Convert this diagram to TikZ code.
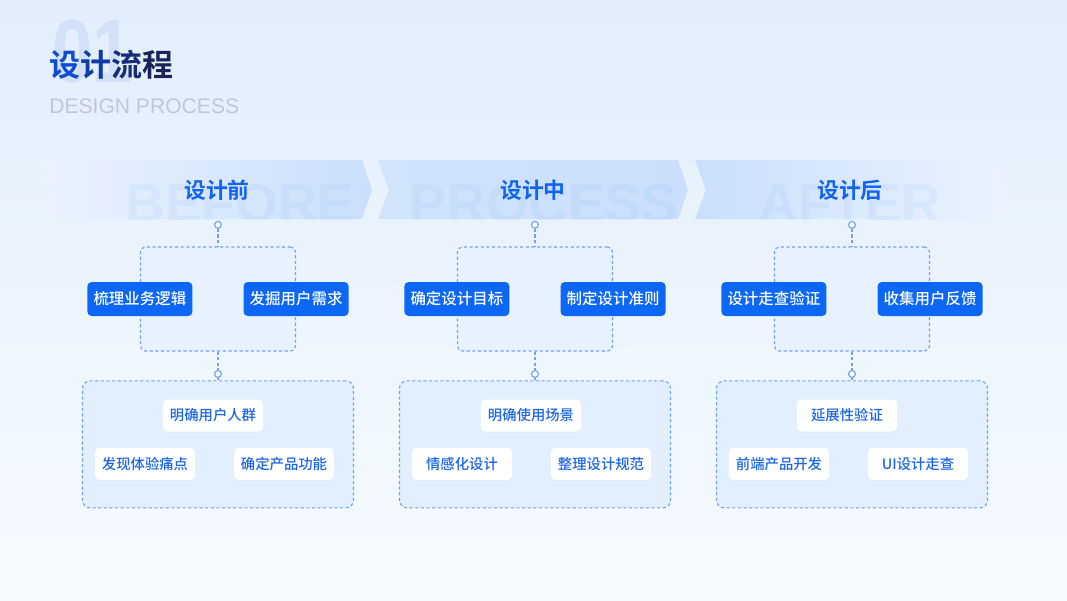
\documentclass[tikz,border=0pt]{standalone}
\usepackage{fontspec}
\setmainfont{Noto Sans CJK SC}[BoldFont={Noto Sans CJK SC Bold}]
\newfontfamily\cjkmed{Noto Sans CJK SC Medium}
\newfontfamily\latinfont{Liberation Sans}
\usetikzlibrary{positioning, shadows}

\definecolor{bgtop}{RGB}{226,238,252}
\definecolor{bgbot}{RGB}{246,251,255}
\definecolor{bandA}{RGB}{202,223,252}
\definecolor{bandB}{RGB}{209,228,252}
\definecolor{bandfade}{RGB}{234,243,254}
\definecolor{ghost}{RGB}{120,170,245}
\definecolor{headblue}{RGB}{18,100,240}
\definecolor{pillblue}{RGB}{12,102,246}
\definecolor{cardtext}{RGB}{28,102,230}
\definecolor{dashblue}{RGB}{112,162,240}
\definecolor{boxup}{RGB}{231,242,254}
\definecolor{boxlow}{RGB}{226,239,254}
\definecolor{engray}{RGB}{192,199,213}
\definecolor{numghost}{RGB}{210,225,249}
\definecolor{tone1}{RGB}{14,76,212}
\definecolor{tone2}{RGB}{16,60,168}
\definecolor{tone3}{RGB}{22,44,122}
\definecolor{tone4}{RGB}{26,34,88}

\begin{document}
\begin{tikzpicture}[
    x=0.025cm, y=-0.025cm,
    dot/.style={circle, draw=dashblue, fill=white, line width=0.8pt, minimum size=0.17cm, inner sep=0pt},
    link/.style={draw=dashblue, line width=0.8pt, dash pattern=on 2.2pt off 1.8pt},
    upbox/.style={link, fill=boxup, rounded corners=3.5pt, minimum width=3.875cm, minimum height=2.6cm},
    lowbox/.style={link, fill=boxlow, rounded corners=5.5pt, minimum width=6.775cm, minimum height=3.175cm},
    pill/.style={fill=pillblue, text=white, rounded corners=3pt, minimum width=2.625cm, minimum height=0.85cm, inner sep=0pt, font=\cjkmed\fontsize{11}{13}\selectfont},
    card/.style={fill=white, rounded corners=3pt, minimum width=2.5cm, minimum height=0.8cm, inner sep=0pt, text=cardtext, font=\cjkmed\fontsize{10.2}{12}\selectfont, drop shadow={shadow xshift=0pt, shadow yshift=-0.6pt, opacity=0.10, fill=dashblue}},
    head/.style={text=headblue, font=\fontsize{15.5}{18}\selectfont\bfseries},
    ghostword/.style={anchor=base, inner sep=0pt, text=ghost, text opacity=0.10, font=\latinfont\bfseries\fontsize{39}{40}\selectfont}
]
\useasboundingbox (0,0) rectangle (1067,600);
\shade[top color=bgtop, bottom color=bgbot] (0,0) rectangle (1067,600);

% heading
\node[anchor=base west, inner sep=0pt, text=numghost, font=\latinfont\bfseries\fontsize{64}{64}\selectfont] (num) at (52,82) {\scalebox{0.8}[1]{01}};
\node[anchor=west, inner sep=0pt, font=\bfseries\fontsize{22}{26}\selectfont] (title) at (49,65) {\textcolor{tone1}{设}\textcolor{tone2}{计}\textcolor{tone3}{流}\textcolor{tone4}{程}};
\node[anchor=base west, inner sep=0pt, text=engray, font=\latinfont\fontsize{15}{18}\selectfont] (sub) at (49,113) {DESIGN PROCESS};

% banners
\begin{scope}
\clip (40,160) -- (362,160) -- (372,190) -- (362,219) -- (40,219) -- (51,190) -- cycle;
\shade[left color=bandfade, right color=bandA] (40,160) rectangle (372,219);
\node[ghostword] (gh1) at (240,222) {BEFORE};
\end{scope}
\begin{scope}
\clip (378,160) -- (678,160) -- (688,190) -- (678,219) -- (378,219) -- (389,190) -- cycle;
\shade[left color=bandB, right color=bandA] (378,160) rectangle (688,219);
\node[ghostword] (gh2) at (544,222) {PROCESS};
\end{scope}
\begin{scope}
\clip (695,160) -- (995,160) -- (1006,190) -- (995,219) -- (695,219) -- (706,190) -- cycle;
\shade[left color=bandA, right color=bandfade] (695,160) rectangle (1006,219);
\node[ghostword] (gh3) at (850,222) {AFTER};
\end{scope}
\node[head] (h1) at (217,190) {设计前};
\node[head] (h2) at (533,190) {设计中};
\node[head] (h3) at (850,190) {设计后};

% column 1
\node[upbox] (up1) at (218,299) {};
\node[dot, above=0.44cm of up1] (dotA1) {};
\node[dot, below=0.46cm of up1] (dotB1) {};
\node[lowbox, below=0.06cm of dotB1] (low1) {};
\draw[link] (dotA1) -- (up1);
\draw[link] (up1) -- (dotB1);
\draw[link] (dotB1) -- (low1);
\node[pill] (p11) at (up1.west) {梳理业务逻辑};
\node[pill] (p12) at (up1.east) {发掘用户需求};
\node[card] (c11) at (213,415.5) {明确用户人群};
\node[card] (c12) at (145,464) {发现体验痛点};
\node[card] (c13) at (284,464) {确定产品功能};

% column 2
\node[upbox] (up2) at (535,299) {};
\node[dot, above=0.44cm of up2] (dotA2) {};
\node[dot, below=0.46cm of up2] (dotB2) {};
\node[lowbox, below=0.06cm of dotB2] (low2) {};
\draw[link] (dotA2) -- (up2);
\draw[link] (up2) -- (dotB2);
\draw[link] (dotB2) -- (low2);
\node[pill] (p21) at (up2.west) {确定设计目标};
\node[pill] (p22) at (up2.east) {制定设计准则};
\node[card] (c21) at (531,415.5) {明确使用场景};
\node[card] (c22) at (462,464) {情感化设计};
\node[card] (c23) at (601,464) {整理设计规范};

% column 3
\node[upbox] (up3) at (852,299) {};
\node[dot, above=0.44cm of up3] (dotA3) {};
\node[dot, below=0.46cm of up3] (dotB3) {};
\node[lowbox, below=0.06cm of dotB3] (low3) {};
\draw[link] (dotA3) -- (up3);
\draw[link] (up3) -- (dotB3);
\draw[link] (dotB3) -- (low3);
\node[pill] (p31) at (up3.west) {设计走查验证};
\node[pill] (p32) at (up3.east) {收集用户反馈};
\node[card] (c31) at (847,415.5) {延展性验证};
\node[card] (c32) at (779,464) {前端产品开发};
\node[card] (c33) at (918,464) {UI设计走查};

\end{tikzpicture}
\end{document}
